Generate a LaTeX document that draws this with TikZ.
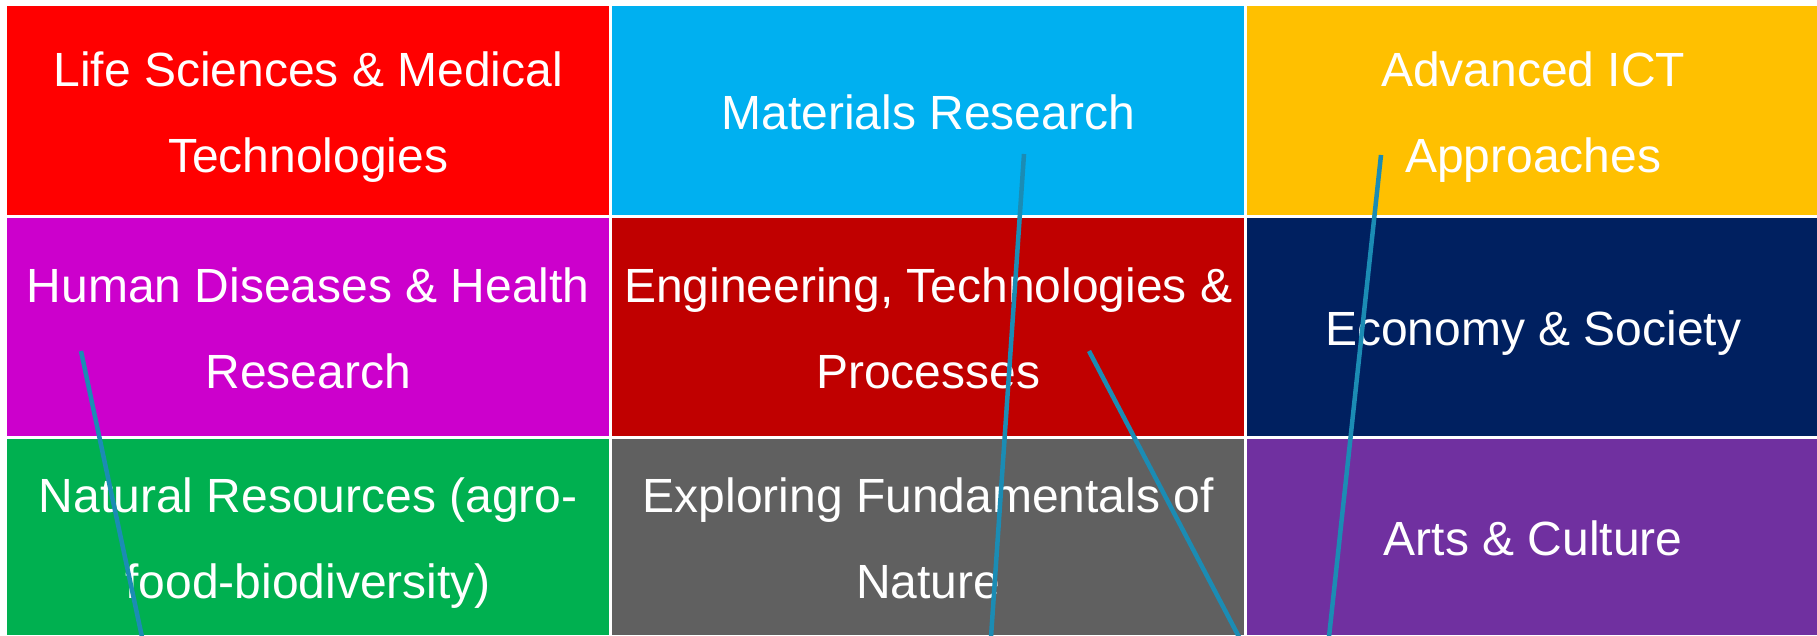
\documentclass[tikz,border=0pt]{standalone}
\usepackage{fontspec}
\setmainfont{Liberation Sans}
\definecolor{cred}{HTML}{FF0000}
\definecolor{cblue}{HTML}{00B0F0}
\definecolor{cgold}{HTML}{FFC000}
\definecolor{cmag}{HTML}{CC00CC}
\definecolor{cdred}{HTML}{C00000}
\definecolor{cnavy}{HTML}{002060}
\definecolor{cgreen}{HTML}{00B050}
\definecolor{cgrey}{HTML}{606060}
\definecolor{cpurple}{HTML}{7030A0}
\definecolor{linkc}{RGB}{27,140,180}
\newcommand\lstrut{\rule[-21pt]{0pt}{80pt}}
\begin{document}
\begin{tikzpicture}[x=1pt,y=1pt,
  cell/.style={rectangle,draw=none,inner sep=0pt,anchor=south west,text=white,
    align=center,font=\fontsize{48}{86}\selectfont},
  colA/.style={minimum width=602pt},
  colB/.style={minimum width=632pt},
  colC/.style={minimum width=572pt},
  rowA/.style={minimum height=209pt},
  rowB/.style={minimum height=218pt},
  rowC/.style={minimum height=196pt},
  link/.style={draw=linkc,line width=4.5pt}]
\useasboundingbox (0,0) rectangle (1817,635);
\clip (0,0) rectangle (1817,635);
\fill[white] (0,0) rectangle (1817,635);
% row 1
\node[cell,colA,rowA,fill=cred] (c11) at (7,420) {\lstrut Life Sciences \& Medical\\\lstrut Technologies};
\node[cell,colB,rowA,fill=cblue] (c12) at (612,420) {\lstrut Materials Research};
\node[cell,colC,rowA,fill=cgold] (c13) at (1247,420) {\lstrut Advanced ICT\\\lstrut Approaches};
% row 2
\node[cell,colA,rowB,fill=cmag] (c21) at (7,199) {\lstrut Human Diseases \& Health\\\lstrut Research};
\node[cell,colB,rowB,fill=cdred] (c22) at (612,199) {\lstrut Engineering, Technologies \&\\\lstrut Processes};
\node[cell,colC,rowB,fill=cnavy] (c23) at (1247,199) {\lstrut Economy \& Society};
% row 3
\node[cell,colA,rowC,fill=cgreen] (c31) at (7,0) {\lstrut Natural Resources (agro-\\\lstrut food-biodiversity)};
\node[cell,colB,rowC,fill=cgrey] (c32) at (612,0) {\lstrut Exploring Fundamentals of\\\lstrut Nature};
\node[cell,colC,rowC,fill=cpurple] (c33) at (1247,0) {\lstrut Arts \& Culture};
% connector end points
\coordinate (l1a) at (81,284);   \coordinate (l1b) at (142,-2);
\coordinate (l2a) at (1024,481); \coordinate (l2b) at (991,-2);
\coordinate (l3a) at (1089,284); \coordinate (l3b) at (1239,-2);
\coordinate (l4a) at (1381,480); \coordinate (l4b) at (1329,-2);
\draw[link] (l1a) -- (l1b);
\draw[link] (l2a) -- (l2b);
\draw[link] (l3a) -- (l3b);
\draw[link] (l4a) -- (l4b);
\end{tikzpicture}
\end{document}
